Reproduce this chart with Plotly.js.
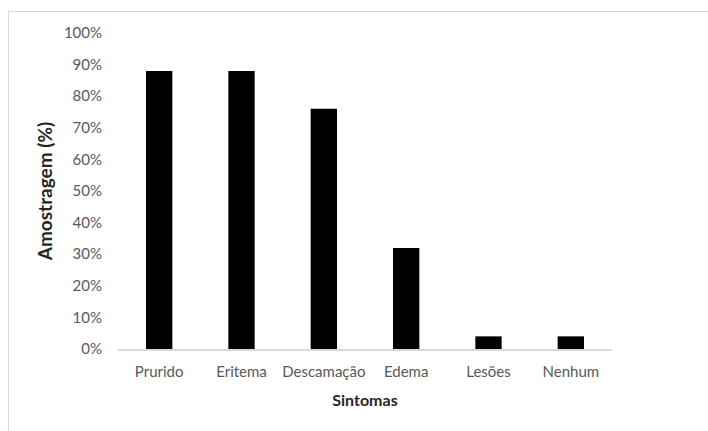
<!DOCTYPE html>
<html>
<head>
<meta charset="utf-8">
<script src="https://cdn.plot.ly/plotly-3.0.1.min.js"></script>
<style>
html,body{margin:0;padding:0;background:#fff;}
#wrap{position:relative;width:708px;height:431px;overflow:hidden;}
#chart{position:absolute;left:0;top:0;width:708px;height:431px;}
#frame{position:absolute;left:8px;top:11px;width:720px;height:440px;border-left:1px solid #d9d9d9;border-top:1px solid #d9d9d9;pointer-events:none;}
</style>
</head>
<body>
<div id="wrap"><div id="chart"></div><div id="frame"></div></div>
<script>
const categories = ["Prurido", "Eritema", "Descamação", "Edema", "Lesões", "Nenhum"];
const values = [0.88, 0.88, 0.76, 0.32, 0.04, 0.04];
const yTicks = [0, 0.1, 0.2, 0.3, 0.4, 0.5, 0.6, 0.7, 0.8, 0.9, 1.0];
const yTickLabels = ["0%", "10%", "20%", "30%", "40%", "50%", "60%", "70%", "80%", "90%", "100%"];
const xTitle = "Sintomas";
const yTitle = "Amostragem (%)";

const font = "Lato, Open Sans, sans-serif";

Plotly.newPlot("chart", [{
  type: "bar",
  x: categories,
  y: values,
  marker: {color: "#000000"},
  hoverinfo: "none"
}], {
  width: 708,
  height: 431,
  margin: {l: 118, r: 96, t: 33, b: 82, pad: 0},
  paper_bgcolor: "#ffffff",
  plot_bgcolor: "#ffffff",
  bargap: 0.68,
  showlegend: false,
  font: {family: font, size: 15, color: "#595959"},
  xaxis: {
    type: "category",
    showgrid: false,
    zeroline: false,
    showline: true,
    linecolor: "#d9d9d9",
    linewidth: 1.5,
    ticks: "outside",
    ticklen: 8,
    tickcolor: "rgba(0,0,0,0)",
    tickfont: {family: font, size: 15, color: "#595959"},
    title: {text: xTitle, font: {family: font, size: 16, color: "#262626", weight: "bold"}, standoff: 16}
  },
  yaxis: {
    range: [0, 1],
    tickvals: yTicks,
    ticktext: yTickLabels,
    showgrid: false,
    zeroline: false,
    showline: false,
    ticks: "outside",
    ticklen: 12,
    tickcolor: "rgba(0,0,0,0)",
    tickfont: {family: font, size: 15, color: "#595959"},
    title: {text: yTitle, font: {family: font, size: 19, color: "#262626", weight: "bold"}, standoff: 6}
  }
}, {staticPlot: true});
</script>
</body>
</html>
